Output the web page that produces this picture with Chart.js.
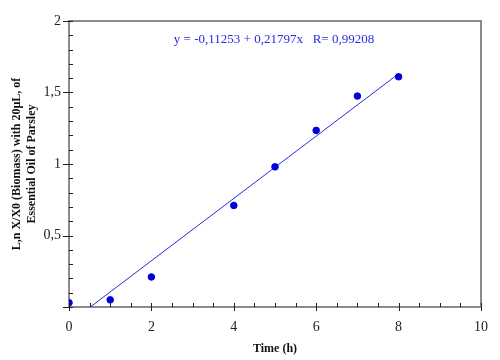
<!DOCTYPE html>
<html>
<head>
<meta charset="utf-8">
<script src="https://cdn.jsdelivr.net/npm/chart.js@4/dist/chart.umd.min.js"></script>
<style>
  html, body { margin: 0; padding: 0; background: #fff; }
  #wrap { width: 500px; height: 360px; }
</style>
</head>
<body>
<div id="wrap"><canvas id="chart" width="500" height="360"></canvas></div>
<script>
// Datos medidos
const timeH = [0, 1, 2, 4, 5, 6, 7, 8];
const lnBiomass = [0.03, 0.05, 0.21, 0.71, 0.98, 1.235, 1.475, 1.61];

// Recta de ajuste (extremos)
const fitX = [0.516, 8];
const fitY = [0, 1.631];
const fitLabel = "y = -0,11253 + 0,21797x   R= 0,99208";

// Ejes
const xMin = 0, xMax = 10, xMajor = 2, xMinor = 0.5;
const yMin = 0, yMax = 2, yMajor = 0.5, yMinor = 0.1;
const xTitle = "Time (h)";
const yTitle = ["L,n X/X0 (Biomass) with 20\u00b5L, of", "Essential Oil of Parsley"];

const axisGray = "#8a8a8a";
const comma = v => String(v).replace(".", ",");

// Marco, marcas de los ejes y texto de la ecuación
const framePlugin = {
    id: "frame",
    afterDraw(chart) {
        const { ctx, chartArea: a, scales } = chart;
        const xs = scales.x, ys = scales.y;
        ctx.save();
        ctx.strokeStyle = axisGray;
        ctx.lineWidth = 2;
        ctx.beginPath();
        ctx.moveTo(a.left, a.top);
        ctx.lineTo(a.right, a.top);
        ctx.lineTo(a.right, a.bottom);
        ctx.stroke();

        ctx.lineWidth = 1;
        ctx.strokeStyle = "#222";
        ctx.beginPath();
        for (let v = xMin; v <= xMax + 1e-9; v += xMinor) {
            const px = Math.round(xs.getPixelForValue(v)) + 0.5;
            const major = Math.abs(v / xMajor - Math.round(v / xMajor)) < 1e-6;
            ctx.moveTo(px, a.bottom - 4);
            ctx.lineTo(px, major ? a.bottom + 4 : a.bottom);
        }
        for (let v = yMin; v <= yMax + 1e-9; v += yMinor) {
            const py = Math.round(ys.getPixelForValue(v)) + 0.5;
            const major = Math.abs(v / yMajor - Math.round(v / yMajor)) < 1e-6;
            ctx.moveTo(a.left + 4, py);
            ctx.lineTo(major ? a.left - 6 : a.left, py);
        }
        ctx.stroke();

        ctx.fillStyle = "#2a2ae6";
        ctx.font = "13px 'Liberation Serif'";
        ctx.textAlign = "center";
        ctx.textBaseline = "middle";
        ctx.fillText(fitLabel, 274, 40);
        ctx.restore();
    }
};

new Chart(document.getElementById("chart"), {
    type: "scatter",
    data: {
        datasets: [
            {
                label: "datos",
                data: timeH.map((t, i) => ({ x: t, y: lnBiomass[i] })),
                backgroundColor: "#0000dd",
                borderColor: "#0000dd",
                pointRadius: 3.3,
                pointHoverRadius: 3.3,
                showLine: false
            },
            {
                label: "ajuste",
                data: fitX.map((t, i) => ({ x: t, y: fitY[i] })),
                borderColor: "#2a2ae6",
                borderWidth: 1,
                pointRadius: 0,
                showLine: true,
                fill: false
            }
        ]
    },
    options: {
        responsive: false,
        animation: false,
        events: [],
        layout: { padding: { left: 0, top: 21, right: 19, bottom: 0 } },
        plugins: { legend: { display: false }, tooltip: { enabled: false } },
        scales: {
            x: {
                type: "linear",
                min: xMin, max: xMax,
                grid: { display: false, drawTicks: false },
                border: { color: axisGray, width: 2 },
                ticks: {
                    stepSize: xMajor,
                    padding: 12,
                    color: "#222",
                    font: { family: "'Liberation Serif'", size: 14 },
                    maxRotation: 0,
                    callback: v => comma(v)
                },
                title: {
                    display: true, text: xTitle, color: "#111",
                    font: { family: "'Liberation Serif'", size: 12, weight: "bold" },
                    padding: { top: 4, bottom: 4 }
                },
                afterFit: s => { s.height = 53; }
            },
            y: {
                type: "linear",
                min: yMin, max: yMax,
                grid: { display: false, drawTicks: false },
                border: { color: axisGray, width: 2 },
                ticks: {
                    stepSize: yMajor,
                    padding: 8,
                    color: "#222",
                    font: { family: "'Liberation Serif'", size: 14 },
                    callback: v => (v === 0 ? "" : comma(v))
                },
                title: {
                    display: true, text: yTitle, color: "#111",
                    font: { family: "'Liberation Serif'", size: 12, weight: "bold" },
                    padding: { top: 10, bottom: 4 }
                },
                afterFit: s => { s.width = 69; }
            }
        }
    },
    plugins: [framePlugin]
});
</script>
</body>
</html>
